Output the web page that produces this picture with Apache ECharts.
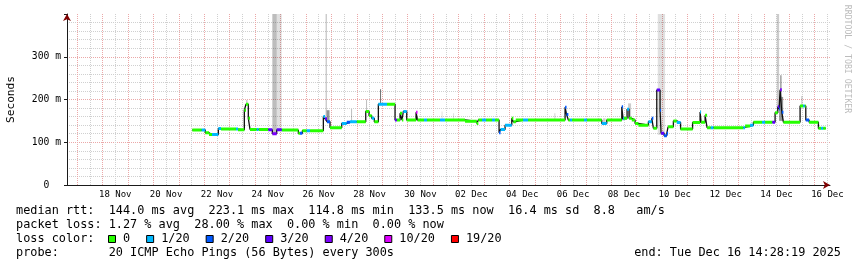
<!DOCTYPE html>
<html><head><meta charset="utf-8">
<script src="https://cdn.jsdelivr.net/npm/echarts@6/dist/echarts.min.js"></script>
<style>html,body{margin:0;padding:0;background:#fff}#c{width:857px;height:267px}</style>
</head><body><div id="c"></div>
<script>
// time unit: days since Sun 16 Nov 2025 00:00 ; values in milliseconds
const rangeStart = 0.603;   // Sun Nov 16 14:28:19
const rangeEnd = 30.603;    // Tue Dec 16 14:28:19
const dataEnd = 30.438;

const xLabelDays = [2.5,4.5,6.5,8.5,10.5,12.5,14.5,16.5,18.5,20.5,22.5,24.5,26.5,28.5,30.5];
const xLabels = ['18 Nov','20 Nov','22 Nov','24 Nov','26 Nov','28 Nov','30 Nov','02 Dec','04 Dec','06 Dec','08 Dec','10 Dec','12 Dec','14 Dec','16 Dec'];
const yTicks = [0,100,200,300];
const yLabels = ['0  ','100 m','200 m','300 m'];

// median rtt, stepped: start of each step, median (ms), loss class index
const segStart = [5.530,5.900,6.041,6.187,6.305,6.553,6.659,7.249,7.327,7.575,7.642,7.732,7.799,8.063,8.134,8.519,8.676,8.849,9.046,9.699,9.765,9.856,10.029,10.159,10.682,10.749,10.827,10.945,11.405,11.602,11.732,11.995,12.349,12.479,12.585,12.687,12.845,13.187,13.501,13.568,13.698,13.776,13.828,13.961,14.327,14.386,14.642,14.760,15.271,15.467,16.254,16.714,16.777,16.922,17.080,17.316,17.434,17.591,17.650,17.827,18.090,18.153,18.248,18.535,18.731,20.186,20.245,20.316,20.383,20.461,20.933,21.051,21.629,21.826,22.416,22.467,22.506,22.624,22.703,22.809,22.939,23.069,23.462,23.596,23.658,23.792,23.922,23.961,24.079,24.186,24.236,24.445,24.579,24.728,25.200,25.495,25.534,25.692,25.770,25.916,26.018,27.198,27.265,27.461,27.591,27.933,28.051,28.338,28.444,28.550,28.602,28.641,28.708,28.771,29.427,29.545,29.604,29.651,29.781,30.147,30.253,30.332];
const segMedian = [128.7,128.7,122,118,118,132,131,131,129,175,189,156,130,130,130,129,120,129,128.5,121,121,127,127,127,160,155,148,134,144,147,148,148,172,162,156,148,189,189,152,152,168,152,172,152,170,152,152,152,152,152,149,144,152,152,152,152,152,122,130,140,156,148,152,152,152,182,165,152,152,152,152,152,144,152,183,155,156,177,156,152,144,140,148,156,133,222,175,121,115,121,136,150,146,131,146,171,147,163,134,134,134,134,138,140,147,147,147,147,169,183,178,223,170,147,185,185,185,152,147,132.6,132.6,132.6];
const segLoss = [0,1,0,0,1,1,0,1,0,0,0,0,0,1,0,3,4,3,0,0,2,0,1,0,1,3,2,0,1,2,1,0,0,0,1,0,1,0,3,0,0,0,1,0,5,0,1,0,1,0,0,0,0,1,0,1,0,2,1,1,0,0,0,1,0,2,2,0,1,0,1,0,1,0,2,1,0,1,0,0,0,0,1,2,0,3,2,3,2,2,0,0,1,0,0,1,0,0,0,1,0,1,0,1,0,1,0,3,0,3,2,4,2,0,0,1,0,2,0,0,1,0];

// smoke (spread of the 20 pings): start, end, low, high (ms), density
const smokeStart = [8.676,8.849,7.642,10.768,10.815,11.772,12.361,12.911,15.330,15.782,19.753,21.680,22.663,23.831,28.511,28.602,28.653,29.478];
const smokeEnd   = [8.849,9.046,7.701,10.827,10.925,11.811,12.400,12.951,15.369,15.822,19.812,21.779,22.781,24.118,28.602,28.760,28.681,29.517];
const smokeLow   = [120,129,189,160,150,148,172,189,152,152,152,144,156,117,178,150,206,185];
const smokeHigh  = [400,400,199,400,175,178,200,224,172,168,168,156,191,400,400,206,257,208];
const smokeDensity = [3,1,2,2,4,3,3,5,1,1,1,2,2,1,2,4,5,3];

const lossLabels = ['0','1/20','2/20','3/20','4/20','10/20','19/20'];
const lossColors = ['#26ff00','#00b8ff','#0059ff','#5e00ff','#7e00ff','#dd00ff','#ff0000'];

const statLines = [
  'median rtt:  144.0 ms avg  223.1 ms max  114.8 ms min  133.5 ms now  16.4 ms sd  8.8   am/s',
  'packet loss: 1.27 % avg  28.00 % max  0.00 % min  0.00 % now'
];
const lossTitle = 'loss color:';
const probeLine = 'probe:       20 ICMP Echo Pings (56 Bytes) every 300s';
const endLine = 'end: Tue Dec 16 14:28:19 2025';
const watermark = 'RRDTOOL / TOBI OETIKER';

// ---------- build ----------
const n = segStart.length;
const segEnd = i => (i + 1 < n ? segStart[i + 1] : dataEnd);
const medianPath = [];
for (let i = 0; i < n; i++) {
  if (i > 0) medianPath.push([segStart[i], segMedian[i - 1]]);
  medianPath.push([segStart[i], segMedian[i]]);
}
medianPath.push([dataEnd, segMedian[n - 1]]);

const lossSeries = lossColors.map((c, k) => {
  const d = [];
  for (let i = 0; i < n; i++) {
    if (segLoss[i] !== k) continue;
    d.push([segStart[i], segMedian[i]], [segEnd(i), segMedian[i]], [segEnd(i), null]);
  }
  return {type: 'line', xAxisIndex: 1, data: d, symbol: 'none', silent: true, connectNulls: false,
    lineStyle: {color: c, width: 3, cap: 'butt'}, z: 4, animation: false};
});

const smokeData = smokeStart.map((s, i) => [s, smokeEnd[i], smokeLow[i], smokeHigh[i], smokeDensity[i]]);
const smokeFill = ['', 'rgba(0,0,0,0.12)', 'rgba(0,0,0,0.2)', 'rgba(0,0,0,0.26)', 'rgba(0,0,0,0.42)', 'rgba(0,0,0,0.56)'];

const midnights = [], noons = [];
for (let d = 1; d <= 30; d++) { midnights.push(d); noons.push(d + 0.5); }

const MONO = '"DejaVu Sans Mono", monospace';
const legendSize = 11.85;
const charW = legendSize * 0.602;
const legendFont = legendSize + 'px ' + MONO;

const graphics = [];
const lineY = [211, 225, 239, 253];
statLines.forEach((t, i) => graphics.push({type: 'text', x: 16, y: lineY[i], silent: true,
  style: {text: t, font: legendFont, fill: '#000', align: 'left', verticalAlign: 'middle'}}));
graphics.push({type: 'text', x: 16, y: lineY[2], silent: true,
  style: {text: lossTitle, font: legendFont, fill: '#000', align: 'left', verticalAlign: 'middle'}});
let bx = 108;
lossLabels.forEach((lab, k) => {
  graphics.push({type: 'rect', silent: true, shape: {x: bx + 0.5, y: lineY[2] - 3.5, width: 7, height: 7},
    style: {fill: lossColors[k], stroke: '#000', lineWidth: 1}});
  graphics.push({type: 'text', x: bx + 15, y: lineY[2], silent: true,
    style: {text: lab, font: legendFont, fill: '#000', align: 'left', verticalAlign: 'middle'}});
  bx = bx + 15 + lab.length * charW + 16;
});
graphics.push({type: 'text', x: 16, y: lineY[3], silent: true,
  style: {text: probeLine, font: legendFont, fill: '#000', align: 'left', verticalAlign: 'middle'}});
graphics.push({type: 'text', x: 841, y: lineY[3], silent: true,
  style: {text: endLine, font: legendFont, fill: '#000', align: 'right', verticalAlign: 'middle'}});
graphics.push({type: 'text', x: 847, y: 59, rotation: -Math.PI / 2, silent: true,
  style: {text: watermark, font: '8.2px ' + MONO, fill: '#bcbcbc', align: 'center', verticalAlign: 'middle'}});

const baseX = {type: 'value', min: rangeStart, max: rangeEnd, position: 'bottom'};
const chart = echarts.init(document.getElementById('c'), null, {renderer: 'canvas'});
chart.setOption({
  animation: false,
  backgroundColor: '#ffffff',
  grid: {left: 67, right: 27, top: 14, bottom: 82, containLabel: false, outerBoundsMode: 'none'},
  xAxis: [
    Object.assign({}, baseX, {
      axisLine: {show: false}, axisTick: {show: false, customValues: noons}, axisLabel: {show: false},
      splitLine: {show: true, lineStyle: {color: '#d0d0d0', width: 1, type: [1, 1]}}
    }),
    Object.assign({}, baseX, {
      axisLine: {show: true, lineStyle: {color: '#1a1a1a', width: 1}},
      axisTick: {show: false, customValues: midnights},
      axisLabel: {show: true, customValues: xLabelDays, margin: 5, color: '#000',
        fontFamily: 'DejaVu Sans Mono', fontSize: 9,
        formatter: v => { const i = xLabelDays.findIndex(d => Math.abs(d - v) < 1e-6); return i >= 0 ? xLabels[i] : ''; }},
      splitLine: {show: true, lineStyle: {color: '#eba8a8', width: 1, type: [1, 1]}}
    }),
    Object.assign({}, baseX, {
      axisLine: {show: true, symbol: ['none', 'arrow'], symbolSize: [6, 7], lineStyle: {color: '#800000', width: 0}},
      axisTick: {show: false}, axisLabel: {show: false}, splitLine: {show: false}
    })
  ],
  yAxis: [
    {type: 'value', min: 0, max: 400, interval: 100,
      name: 'Seconds', nameLocation: 'middle', nameRotate: 90, nameGap: 50,
      nameTextStyle: {color: '#000', fontFamily: 'DejaVu Sans Mono', fontSize: 11.2},
      axisLine: {show: true, lineStyle: {color: '#1a1a1a', width: 1}},
      axisTick: {show: true, length: 3, lineStyle: {color: '#1a1a1a'}},
      axisLabel: {color: '#000', fontFamily: 'DejaVu Sans Mono', fontSize: 9.7, margin: 6,
        formatter: v => { const i = yTicks.indexOf(v); return i >= 0 ? yLabels[i] : ''; }},
      splitLine: {show: true, showMinLine: false, showMaxLine: false, lineStyle: {color: '#eba8a8', width: 1, type: [1, 1]}},
      minorTick: {show: false, splitNumber: 5},
      minorSplitLine: {show: true, lineStyle: {color: '#d0d0d0', width: 1, type: [1, 1]}}
    },
    {type: 'value', min: 0, max: 400, position: 'left',
      axisLine: {show: true, symbol: ['none', 'arrow'], symbolSize: [6, 7], lineStyle: {color: '#800000', width: 0}},
      axisTick: {show: false}, axisLabel: {show: false}, splitLine: {show: false}}
  ],
  series: [
    {type: 'custom', xAxisIndex: 1, yAxisIndex: 0, silent: true, z: 1, data: smokeData,
      encode: {x: [0, 1], y: [2, 3]},
      renderItem: (params, api) => {
        const p0 = api.coord([api.value(0), api.value(3)]);
        const p1 = api.coord([api.value(1), api.value(2)]);
        return {type: 'rect', shape: {x: p0[0], y: p0[1], width: Math.max(1, p1[0] - p0[0]), height: p1[1] - p0[1]},
          style: {fill: smokeFill[api.value(4)]}};
      }},
    {type: 'line', xAxisIndex: 1, data: medianPath, symbol: 'none', silent: true, z: 3,
      lineStyle: {color: '#111', width: 1.3}}
  ].concat(lossSeries),
  graphic: graphics
});
</script>
</body></html>
